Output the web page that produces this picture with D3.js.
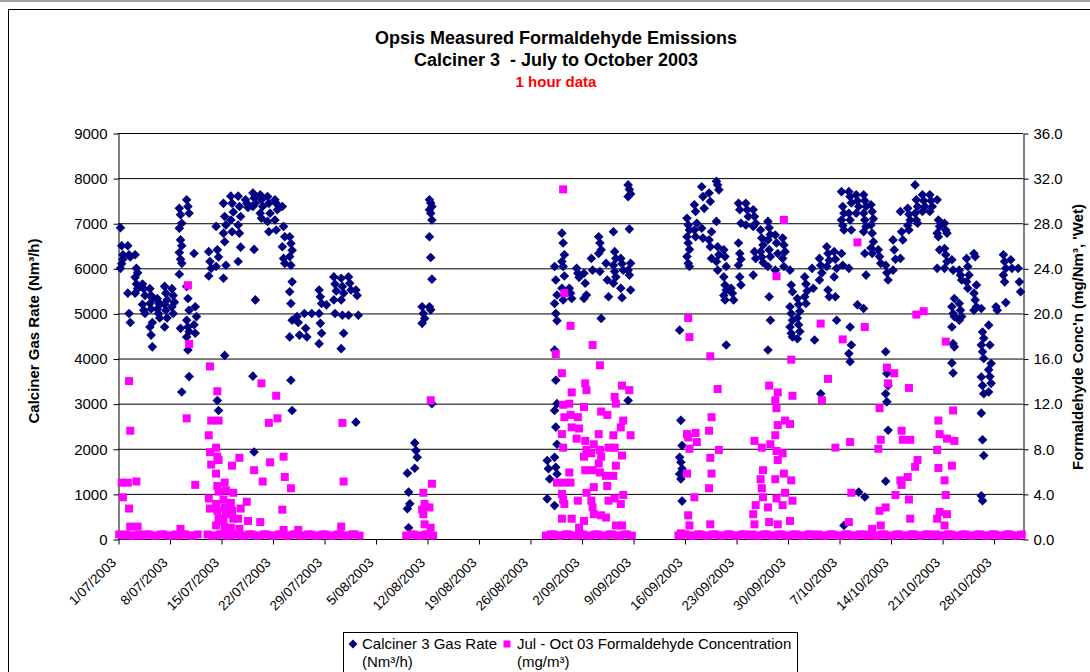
<!DOCTYPE html>
<html>
<head>
<meta charset="utf-8">
<script src="https://cdn.jsdelivr.net/npm/d3@7"></script>
<style>
body { margin: 0; background: #fff; }
text { font-family: Arial, "Liberation Sans", sans-serif; }
</style>
</head>
<body>
<div id="chart"></div>
<script>
// x tick labels (weekly)
var xTickLabels = ["1/07/2003", "8/07/2003", "15/07/2003", "22/07/2003", "29/07/2003", "5/08/2003",
    "12/08/2003", "19/08/2003", "26/08/2003", "2/09/2003", "9/09/2003", "16/09/2003", "23/09/2003",
    "30/09/2003", "7/10/2003", "14/10/2003", "21/10/2003", "28/10/2003"]
var leftTicks = [0, 1000, 2000, 3000, 4000, 5000, 6000, 7000, 8000, 9000]
var rightTicks = [0, 4, 8, 12, 16, 20, 24, 28, 32, 36]

// [day since 1 Jul 2003, hourly readings that day] - Calciner 3 gas rate (Nm3/h)
var gasRate = [
    [0, [6900, 6500, 6200, 6000, 6100, 6300]],
    [1, [6500, 6300, 6250, 5450, 5000, 4800]],
    [2, [6300, 6000, 5900, 5800, 5650, 5550, 5450]],
    [3, [5650, 5550, 5400, 5200, 5070, 5000]],
    [4, [5550, 5400, 5330, 5220, 5100, 4800, 4700, 4520, 4260]],
    [5, [5330, 5250, 5200, 5100, 5000, 4900]],
    [6, [5600, 5450, 5300, 5200, 5070, 4900, 4700]],
    [7, [5550, 5400, 5250, 5150, 5000]],
    [8, [7330, 7190, 7000, 6890, 6630, 6500, 6350, 6200, 6110, 5870, 4670, 3260]],
    [9, [7520, 7370, 7220, 5600, 5330, 5070, 4850, 4700, 4600, 4480, 4190, 3600]],
    [10, [6330, 5150, 4930, 4750, 4560]],
    [12, [6370, 6150, 6000, 5830]],
    [13, [6930, 6410, 6250, 6040, 3070, 2850]],
    [14, [7440, 7150, 6960, 6780, 6590, 6070, 5780, 4070]],
    [15, [7600, 7440, 7250, 7070, 6810]],
    [16, [7600, 7370, 7150, 6960, 6780, 6470, 6150]],
    [17, [7520, 7440, 7350]],
    [18, [7670, 7560, 7440, 7370, 6420, 5300, 3610, 1930]],
    [19, [7630, 7520, 7370, 7220, 7110]],
    [20, [7590, 7440, 7220, 7040, 6810]],
    [21, [7520, 7440, 7300, 7070, 6850]],
    [22, [7370, 6930, 6700, 6480, 6220, 6110]],
    [23, [6700, 6550, 6400, 6260, 6070, 5700, 5480, 5220, 4850, 4480, 3520, 2850]],
    [24, [4930, 4800, 4520]],
    [25, [5000, 4670, 4480]],
    [26, [5000]],
    [27, [5520, 5370, 5220, 5000, 4780, 4560, 4330]],
    [28, [5190]],
    [29, [5810, 5650, 5500, 5300, 5000]],
    [30, [5780, 5600, 5450, 5300, 4960, 4560, 4220]],
    [31, [5810, 5670, 5520, 4960]],
    [32, [5520, 5400, 4960, 2590]],
    [39, [1460, 1040, 780, 670, 250]],
    [40, [2130, 1960, 1810, 1570]],
    [41, [5150, 5000, 4890, 4780]],
    [42, [7520, 7450, 7370, 7300, 7220, 7070, 6700, 6240, 5760, 5150, 5080, 3000]],
    [58, [1740, 1560, 1330, 890]],
    [59, [6040, 5740, 5410, 5220, 5000, 4840, 4190, 3520, 3000, 2850, 2480, 2100, 1810, 1590, 1440, 740]],
    [60, [6780, 6560, 6300, 6150, 6040, 5830, 5560, 5300]],
    [61, [5560, 5450, 5330]],
    [62, [6000, 5890, 5800]],
    [63, [5890, 5670, 5410, 5330]],
    [64, [6220, 5960]],
    [65, [6700, 6560, 6410, 6330, 5930, 4890]],
    [66, [6110, 5740, 5370]],
    [67, [6810, 6370, 6220, 6070, 5930, 5810, 5670]],
    [68, [6220, 6100, 5960, 5560, 5350]],
    [69, [7850, 7750, 7650, 7590, 6870, 6110, 5960, 5850, 5520, 3070]],
    [76, [4630, 2630, 2070, 1810, 1700, 1560, 1440, 1330, 840]],
    [77, [7110, 6960, 6850, 6700, 6560, 6420, 6260, 6110, 6040]],
    [78, [7410, 7260, 7000, 6850, 6700]],
    [79, [7810, 7590, 7330, 6890, 6670]],
    [80, [7670, 7480, 6810, 6630, 6480, 6220]],
    [81, [7930, 7850, 7740, 7040, 6480, 6300, 6150, 5960]],
    [82, [6410, 6260, 6040, 5810, 5630, 5520, 5400, 5300, 4300]],
    [83, [5560, 5450, 5300]],
    [84, [7440, 7300, 7000, 6560, 6330, 6200, 6070, 5810, 5630]],
    [85, [7440, 7300, 7150, 6960]],
    [86, [7300, 7150, 7000, 6930, 6370, 6220, 5850]],
    [87, [6850, 6670, 6520, 6370, 6250, 6130]],
    [88, [7040, 6900, 6750, 6630, 6410, 6260, 6040, 5370, 4850, 4190]],
    [89, [6740, 6560, 6330, 5960]],
    [90, [6670, 6520, 6370, 6220, 6040]],
    [91, [5960, 5630, 5480, 5150, 5000, 4850, 4700, 4560, 4480]],
    [92, [5330, 5200, 5050, 4900, 4750, 4600, 4440]],
    [93, [5810, 5650, 5500, 5370, 5220]],
    [94, [6000, 5560, 4410]],
    [95, [6220, 6070, 5900, 5740, 3220]],
    [96, [6480, 6330, 6180, 6040, 5520, 5370]],
    [97, [6370, 6200, 6000, 5810, 5370, 4850]],
    [98, [7700, 7370, 7220, 7070, 6950, 6850, 6330, 6070, 300]],
    [99, [7700, 7590, 7450, 7220, 7070, 6850, 6000, 4700, 4300, 4110, 3930]],
    [100, [7630, 7500, 7370, 7220, 5190, 1040]],
    [101, [7630, 7500, 7370, 7220, 7070, 6930, 6810, 6330, 5850, 5110, 930]],
    [102, [7410, 7260, 7100, 6960, 6780, 6590, 6450, 6330]],
    [103, [6410, 6260, 6110]],
    [104, [6070, 5900, 5740, 4150, 3670, 3400, 3220, 3040, 2410, 1280]],
    [105, [6630, 6410, 6200, 5960]],
    [106, [7260, 6810, 6630, 6220]],
    [107, [7330, 7200, 7070, 6950, 6850]],
    [108, [7850, 7520, 7370, 7220, 7070, 7000]],
    [109, [7630, 7500, 7370, 7260]],
    [110, [7630, 7500, 7370, 7260]],
    [111, [7520, 7070, 6930, 6780, 6700, 6410, 6000]],
    [112, [7000, 6850, 6780, 6440, 6300, 6150, 6000]],
    [113, [6190, 5960, 5330, 5150, 5000, 4930, 4700, 4330, 4260, 3900, 3680]],
    [114, [5960, 5850, 5740, 5220, 5070, 4930, 4850]],
    [115, [6220, 6040, 5850, 5700, 5560]],
    [116, [6330, 6260, 5630, 5450, 5300, 5150, 5070]],
    [117, [5110, 4590, 4450, 4300, 4150, 4000, 3590, 3400, 3220, 2790, 2200, 1850, 960, 850]],
    [118, [4740, 4300, 3890, 3750, 3600, 3450, 3260]],
    [119, [5150, 5070]],
    [120, [6300, 6150, 6000, 5850, 5700, 5240]],
    [121, [6190, 6000]],
    [122, [6000, 5700, 5480]]
]

// [day since 1 Jul 2003, hourly readings that day] - formaldehyde concentration (mg/m3)
var formaldehyde = [
    [0, [0.4, 5.0, 3.7, 0.3]], [1, [0.4, 14.0, 9.6, 5.0, 2.7, 1.1, 0.3]], [2, [0.3, 5.1, 1.1, 0.4]],
    [3, [0.3, 0.4]], [4, [0.4, 0.3]], [5, [0.3, 0.4]], [6, [0.4, 0.3]], [7, [0.3, 0.4]],
    [8, [0.3, 0.9, 0.4]], [9, [0.4, 22.5, 17.3, 10.7, 0.3]], [10, [0.3, 4.8, 0.4]],
    [12, [0.4, 15.3, 10.5, 9.2, 7.7, 6.6, 3.6, 2.7, 0.3]],
    [13, [0.3, 13.1, 10.5, 8.1, 7.3, 7.0, 5.8, 4.7, 4.2, 3.1, 2.5, 1.8, 1.2, 0.4]],
    [14, [0.4, 5.0, 4.3, 3.5, 2.8, 2.2, 1.6, 1.0, 0.3]],
    [15, [0.3, 6.5, 4.1, 3.2, 2.5, 1.8, 1.0, 0.4]],
    [16, [0.4, 7.2, 2.7, 1.8, 0.9, 0.3]], [17, [0.3, 3.3, 1.6, 0.4]], [18, [0.4, 6.1, 0.3]],
    [19, [0.3, 13.8, 5.1, 1.5, 0.4]], [20, [0.4, 10.3, 6.8, 0.3]], [21, [0.3, 12.7, 10.7, 0.4]],
    [22, [0.4, 7.3, 5.5, 2.6, 0.8, 0.3]], [23, [0.3, 4.5, 0.4]], [24, [0.4, 0.8, 0.3]],
    [25, [0.3, 0.4]], [26, [0.4, 0.3]], [27, [0.3, 0.4]], [28, [0.4, 0.3]], [29, [0.3, 0.4]],
    [30, [0.4, 10.3, 5.1, 1.1, 0.3]], [31, [0.3, 0.4]], [32, [0.4, 0.3]],
    [39, [0.3, 0.4]], [40, [0.4, 0.3]], [41, [0.3, 4.1, 3.1, 2.6, 2.2, 1.3, 0.4]],
    [42, [0.4, 12.3, 4.9, 2.8, 1.0, 0.3]],
    [58, [0.3, 0.4]], [59, [0.4, 16.4, 5.0, 0.3]],
    [60, [0.3, 31.0, 21.8, 14.7, 11.9, 10.8, 9.3, 8.1, 5.0, 4.0, 3.5, 3.1, 1.8, 0.4]],
    [61, [0.4, 18.9, 13.0, 12.0, 11.0, 9.9, 5.9, 5.0, 1.8, 0.3]],
    [62, [0.3, 10.8, 9.8, 8.9, 3.4, 1.0, 0.4]],
    [63, [0.4, 13.8, 13.2, 11.7, 8.7, 7.9, 7.3, 6.1, 4.1, 1.6, 0.3]],
    [64, [0.3, 17.2, 8.4, 7.6, 6.1, 4.6, 3.4, 2.8, 2.2, 0.4]],
    [65, [0.4, 15.4, 11.3, 9.3, 7.9, 7.3, 6.7, 5.9, 2.1, 0.3]],
    [66, [0.3, 11.0, 8.1, 5.6, 4.7, 3.4, 1.9, 0.4]],
    [67, [0.4, 12.6, 12.0, 9.2, 8.1, 6.5, 5.6, 3.6, 1.2, 0.3]],
    [68, [0.3, 13.6, 10.5, 9.9, 7.4, 3.9, 3.1, 1.2, 0.4]],
    [69, [0.4, 13.2, 9.2, 0.3]],
    [76, [0.3, 0.5, 0.4]], [77, [0.4, 19.6, 17.9, 9.3, 9.0, 8.0, 5.8, 2.1, 1.2, 0.3]],
    [78, [0.3, 9.4, 8.6, 3.7, 0.4]], [79, [0.4, 0.3]],
    [80, [0.3, 16.2, 10.8, 9.6, 7.2, 5.8, 4.5, 1.3, 0.4]], [81, [0.4, 13.3, 7.9, 0.3]],
    [82, [0.3, 0.4]], [83, [0.4, 0.3]], [84, [0.3, 0.4]], [85, [0.4, 0.3]],
    [86, [0.4, 8.7, 3.0, 2.2, 1.3, 0.3]], [87, [0.3, 8.1, 6.1, 5.3, 4.5, 3.7, 0.4]],
    [88, [0.4, 13.6, 8.4, 2.8, 1.5, 0.3]],
    [89, [0.3, 23.3, 13.0, 12.3, 11.6, 10.1, 9.2, 7.8, 7.0, 5.3, 3.6, 1.3, 0.4]],
    [90, [0.4, 28.3, 10.5, 7.6, 5.8, 4.1, 3.0, 0.3]],
    [91, [0.3, 15.9, 12.7, 10.2, 5.2, 3.4, 1.6, 0.4]],
    [92, [0.4, 0.3]], [93, [0.3, 0.4]], [94, [0.4, 0.3]],
    [95, [0.4, 19.1, 12.3, 0.3]], [96, [0.3, 14.2, 0.4]], [97, [0.4, 8.1, 0.3]],
    [98, [0.3, 17.7, 0.4]], [99, [0.4, 8.6, 4.1, 1.5, 0.3]], [100, [0.3, 26.3, 0.4]],
    [101, [0.4, 18.8, 0.3]], [102, [0.4, 0.9, 0.3]], [103, [0.3, 11.6, 8.8, 8.0, 2.5, 1.2, 0.4]],
    [104, [0.4, 15.2, 13.8, 2.8, 0.3]], [105, [0.3, 14.7, 3.9, 0.4]],
    [106, [0.4, 9.6, 8.8, 5.2, 4.8, 0.3]], [107, [0.3, 13.4, 8.8, 5.5, 3.5, 1.8, 0.4]],
    [108, [0.4, 19.9, 7.0, 6.4, 0.3]], [109, [0.3, 20.2, 0.4]], [110, [0.4, 0.3]],
    [111, [0.4, 10.5, 9.3, 7.9, 6.3, 2.4, 1.8, 0.3]],
    [112, [0.3, 17.5, 8.9, 5.2, 3.9, 2.2, 1.2, 0.4]], [113, [0.4, 11.4, 8.7, 6.5, 0.3]],
    [114, [0.3, 0.4]], [115, [0.4, 0.3]], [116, [0.3, 0.4]], [117, [0.4, 0.3]],
    [118, [0.3, 0.4]], [119, [0.4, 0.3]], [120, [0.3, 0.4]], [121, [0.4, 0.3]], [122, [0.3, 0.4]]
]

var svgWidth = 1090
var svgHeight = 672
var plot = { left: 118, right: 1023, top: 133, bottom: 539 }

var svg = d3.select("#chart")
    .append("svg")
    .attr("width", svgWidth)
    .attr("height", svgHeight)

// outer chart frame
svg.append("line").attr("x1", 0).attr("x2", svgWidth).attr("y1", 1).attr("y2", 1)
    .attr("stroke", "#a0a0a0").attr("stroke-width", 2)
svg.append("rect")
    .attr("x", 8.5).attr("y", 9.5)
    .attr("width", 1100).attr("height", 700)
    .attr("fill", "none").attr("stroke", "#000")

var parseDate = d3.timeParse("%d/%m/%Y")
var tickDates = xTickLabels.map(parseDate)

var x = d3.scaleTime()
    .domain([new Date(2003, 6, 1), new Date(2003, 10, 1)])
    .range([plot.left, plot.right])
var yGas = d3.scaleLinear().domain([0, 9000]).range([plot.bottom, plot.top])
var yConc = d3.scaleLinear().domain([0, 36]).range([plot.bottom, plot.top])

// readings of one day sit in a narrow column around midday;
// with keepEnds the first/last readings go to the ends of the day (background band)
function toPoints(rows, keepEnds) {
    var pts = []
    rows.forEach(function (r) {
        var n = r[1].length
        r[1].forEach(function (v, i) {
            var hour = 12 + ((i % 3) - 1) * 4
            if (keepEnds && i === 0) hour = 4
            if (keepEnds && i === n - 1) hour = 20
            pts.push({ t: new Date(2003, 6, 1 + r[0], hour), v: v })
        })
    })
    return pts
}

// gridlines
svg.append("g").selectAll("line")
    .data(leftTicks.slice(1))
    .enter()
    .append("line")
    .attr("x1", plot.left).attr("x2", plot.right)
    .attr("y1", d => yGas(d) + 0.5).attr("y2", d => yGas(d) + 0.5)
    .attr("stroke", "#000").attr("stroke-width", 1)

// left axis
var leftAxis = svg.append("g")
    .attr("transform", `translate(${plot.left + 0.5},0.5)`)
    .call(d3.axisLeft(yGas).tickValues(leftTicks).tickSize(5).tickSizeOuter(0).tickPadding(6)
        .tickFormat(d3.format("d")))
leftAxis.selectAll("text").attr("font-size", "15px").attr("fill", "#000")
    .style("font-family", "Arial, 'Liberation Sans', sans-serif")

// right axis
var rightAxis = svg.append("g")
    .attr("transform", `translate(${plot.right + 0.5},0.5)`)
    .call(d3.axisRight(yConc).tickValues(rightTicks).tickSize(5).tickSizeOuter(0).tickPadding(5)
        .tickFormat(d3.format(".1f")))
rightAxis.selectAll("text").attr("font-size", "15px").attr("fill", "#000")
    .style("font-family", "Arial, 'Liberation Sans', sans-serif")

// bottom axis
var bottomAxis = svg.append("g")
    .attr("transform", `translate(0.5,${plot.bottom + 0.5})`)
    .call(d3.axisBottom(x).tickValues(tickDates).tickSize(5).tickSizeOuter(0)
        .tickFormat((d, i) => xTickLabels[i]))
bottomAxis.select(".domain").attr("d", `M${plot.left},0H${plot.right}`)
bottomAxis.selectAll("text")
    .attr("font-size", "13.5px").attr("fill", "#000")
    .style("font-family", "Arial, 'Liberation Sans', sans-serif")
    .attr("text-anchor", "end")
    .attr("x", 0).attr("y", 0).attr("dy", 0)
    .attr("transform", "translate(-2,24) rotate(-45)")

// gas rate diamonds
svg.append("g").selectAll("path")
    .data(toPoints(gasRate, false))
    .enter()
    .append("path")
    .attr("d", "M0,-4.8L4.8,0L0,4.8L-4.8,0Z")
    .attr("transform", d => `translate(${x(d.t)},${yGas(d.v)})`)
    .attr("fill", "#000080")

// formaldehyde squares (drawn on top)
svg.append("g").selectAll("rect")
    .data(toPoints(formaldehyde, true))
    .enter()
    .append("rect")
    .attr("x", d => x(d.t) - 4)
    .attr("y", d => yConc(d.v) - 4)
    .attr("width", 8).attr("height", 8)
    .attr("fill", "#ff00ff")

// titles
var titles = svg.append("g").attr("text-anchor", "middle").attr("font-weight", "bold")
titles.append("text").attr("x", 556).attr("y", 44).attr("font-size", "18px")
    .text("Opsis Measured Formaldehyde Emissions")
titles.append("text").attr("x", 556).attr("y", 66).attr("font-size", "18px")
    .text("Calciner 3  - July to October 2003").style("white-space", "pre")
titles.append("text").attr("x", 556).attr("y", 87).attr("font-size", "15px").attr("fill", "#ff0000")
    .text("1 hour data")

svg.append("text")
    .attr("transform", "translate(39,331) rotate(-90)")
    .attr("text-anchor", "middle").attr("font-weight", "bold").attr("font-size", "15px")
    .text("Calciner Gas Rate (Nm³/h)")
svg.append("text")
    .attr("transform", "translate(1083,337) rotate(-90)")
    .attr("text-anchor", "middle").attr("font-weight", "bold").attr("font-size", "15px")
    .text("Formaldehyde Conc'n (mg/Nm³, 'Wet)")

// legend
var legend = svg.append("g")
legend.append("rect")
    .attr("x", 343.5).attr("y", 632.5).attr("width", 454).attr("height", 60)
    .attr("fill", "#fff").attr("stroke", "#000")
legend.append("path")
    .attr("d", "M0,-4.5L4.5,0L0,4.5L-4.5,0Z")
    .attr("transform", "translate(353,644)")
    .attr("fill", "#000080")
legend.append("rect")
    .attr("x", 503.5).attr("y", 640.5).attr("width", 7).attr("height", 7)
    .attr("fill", "#ff00ff")
var legendText = [
    { x: 362, lines: ["Calciner 3 Gas Rate", "(Nm³/h)"] },
    { x: 517, lines: ["Jul - Oct 03 Formaldehyde Concentration", "(mg/m³)"] }
]
legendText.forEach(function (l) {
    l.lines.forEach(function (s, i) {
        legend.append("text").attr("x", l.x).attr("y", 649 + i * 18)
            .attr("font-size", "15px").text(s)
    })
})
</script>
</body>
</html>
